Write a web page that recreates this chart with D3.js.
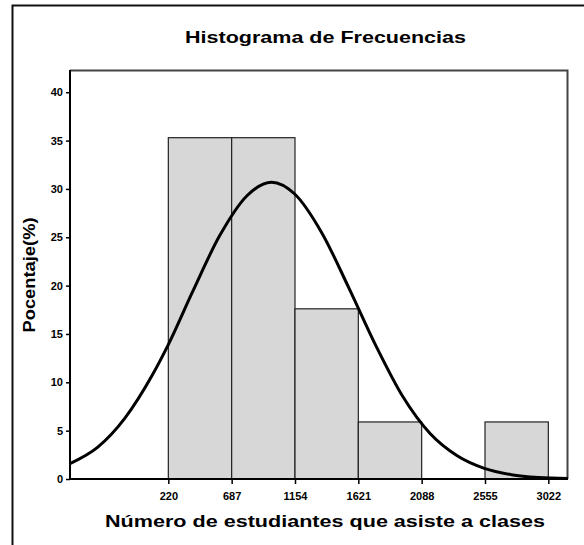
<!DOCTYPE html>
<html>
<head>
<meta charset="utf-8">
<script src="https://cdn.jsdelivr.net/npm/d3@7"></script>
<style>
  body { margin: 0; background: #fff; }
  svg { display: block; font-family: "Liberation Sans", Arial, sans-serif; }
</style>
</head>
<body>
<div id="chart"></div>
<script>
// bin edges (tick labels on x) and percentages for each bin
let binEdges = [220, 687, 1154, 1621, 2088, 2555, 3022];
let binPercents = [35.3, 35.3, 17.6, 5.9, 0, 5.9];
let yTicks = [0, 5, 10, 15, 20, 25, 30, 35, 40];

// fitted normal curve
let curveX = [-505, -300, -100, 100, 220, 400, 600, 800, 982, 1150, 1350, 1550, 1750, 1950, 2150, 2350, 2550, 2750, 2950, 3167];
let curveY = [1.6, 3.3, 6.3, 10.7, 13.9, 19.4, 25.2, 29.3, 30.7, 29.5, 25.5, 19.8, 13.8, 8.5, 4.7, 2.4, 1.1, 0.45, 0.16, 0.05];

let margin = { top: 70, right: 16, bottom: 66, left: 70 };
let width = 584 - margin.left - margin.right;
let height = 545 - margin.top - margin.bottom;

let svg = d3.select("#chart")
  .append("svg")
    .attr("width", 584)
    .attr("height", 545);

// outer frame
svg.append("rect")
  .attr("x", 12.5)
  .attr("y", 5.5)
  .attr("width", 700)
  .attr("height", 700)
  .attr("fill", "none")
  .attr("stroke", "#111")
  .attr("stroke-width", 2);

// title
svg.append("text")
  .attr("x", 325.5)
  .attr("y", 43)
  .attr("text-anchor", "middle")
  .attr("textLength", 281)
  .attr("lengthAdjust", "spacingAndGlyphs")
  .style("font-size", "17px")
  .style("font-weight", "bold")
  .text("Histograma de Frecuencias");

let g = svg.append("g")
  .attr("transform", "translate(" + margin.left + ", " + margin.top + ")");

let xScale = d3.scaleLinear()
  .domain([-505, 3167])
  .range([0, width]);

let yScale = d3.scaleLinear()
  .domain([0, 42.3])
  .range([height, 0]);

// plot frame (top and right)
g.append("path")
  .attr("d", "M0,0.5H" + (width - 0.5) + "V" + height)
  .attr("fill", "none")
  .attr("stroke", "#444")
  .attr("stroke-width", 2);

// bars
let bins = binPercents.map((p, i) => ({ x0: binEdges[i], x1: binEdges[i + 1], p: p }))
  .filter(d => d.p > 0);

g.selectAll(".bar")
  .data(bins)
  .enter()
  .append("rect")
    .attr("class", "bar")
    .attr("x", d => xScale(d.x0))
    .attr("y", d => yScale(d.p))
    .attr("width", d => xScale(d.x1) - xScale(d.x0))
    .attr("height", d => yScale(0) - yScale(d.p))
    .attr("fill", "#d7d7d7")
    .attr("stroke", "#222")
    .attr("stroke-width", 1.2);

// normal curve
let curvePts = curveX.map((x, i) => [x, curveY[i]]);
let line = d3.line()
  .x(d => xScale(d[0]))
  .y(d => yScale(d[1]))
  .curve(d3.curveMonotoneX);

g.append("path")
  .attr("d", line(curvePts))
  .attr("fill", "none")
  .attr("stroke", "#000")
  .attr("stroke-width", 3);

// x axis
let xAxis = g.append("g")
  .attr("transform", "translate(0, " + height + ")")
  .call(d3.axisBottom(xScale).tickValues(binEdges).tickSize(5).tickSizeOuter(0).tickFormat(d3.format("d")));
xAxis.select(".domain").attr("stroke", "#000").attr("stroke-width", 2).attr("d", "M0,0H" + width);
xAxis.selectAll(".tick line").attr("stroke", "#000").attr("stroke-width", 1.5);
xAxis.selectAll(".tick text")
  .attr("y", 13)
  .style("font-size", "11px")
  .style("font-weight", "bold")
  .attr("fill", "#000");

// y axis
let yAxis = g.append("g")
  .call(d3.axisLeft(yScale).tickValues(yTicks).tickSize(4).tickSizeOuter(0));
yAxis.select(".domain").attr("stroke", "#000").attr("stroke-width", 2).attr("d", "M0," + height + "V0");
yAxis.selectAll(".tick line").attr("stroke", "#000").attr("stroke-width", 1.5);
yAxis.selectAll(".tick text")
  .attr("x", -7)
  .style("font-size", "11px")
  .style("font-weight", "bold")
  .attr("fill", "#000");

// axis titles
svg.append("text")
  .attr("x", 325)
  .attr("y", 527)
  .attr("text-anchor", "middle")
  .attr("textLength", 440)
  .attr("lengthAdjust", "spacingAndGlyphs")
  .style("font-size", "17px")
  .style("font-weight", "bold")
  .text("Número de estudiantes que asiste a clases");

svg.append("text")
  .attr("transform", "translate(35, 275) rotate(-90)")
  .attr("text-anchor", "middle")
  .attr("textLength", 115)
  .attr("lengthAdjust", "spacingAndGlyphs")
  .style("font-size", "16px")
  .style("font-weight", "bold")
  .text("Pocentaje(%)");
</script>
</body>
</html>
